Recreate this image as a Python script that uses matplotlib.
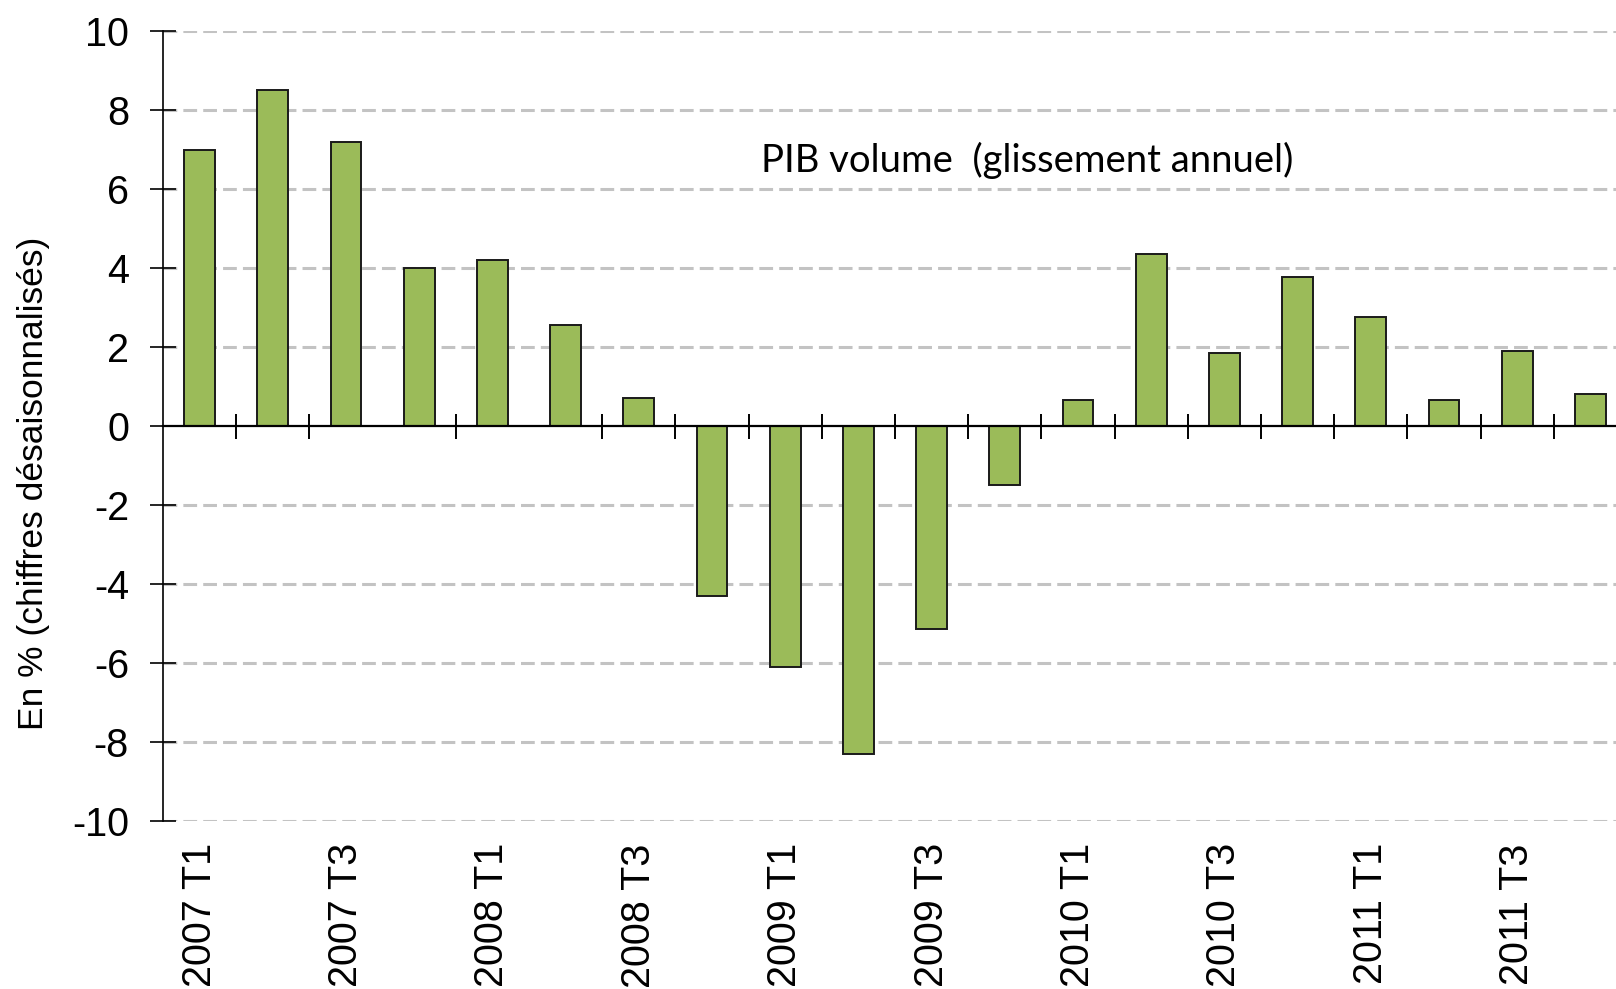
import matplotlib
matplotlib.use("Agg")
import matplotlib.pyplot as plt
import numpy as np

quarters = ["2007 T1", "2007 T2", "2007 T3", "2007 T4",
            "2008 T1", "2008 T2", "2008 T3", "2008 T4",
            "2009 T1", "2009 T2", "2009 T3", "2009 T4",
            "2010 T1", "2010 T2", "2010 T3", "2010 T4",
            "2011 T1", "2011 T2", "2011 T3", "2011 T4"]
pib_ga = [7.0, 8.5, 7.2, 4.0,
          4.2, 2.55, 0.7, -4.3,
          -6.1, -8.3, -5.15, -1.5,
          0.65, 4.35, 1.85, 3.78,
          2.75, 0.65, 1.9, 0.82]
yticks = [-10, -8, -6, -4, -2, 0, 2, 4, 6, 8, 10]
ylabel = "En % (chiffres désaisonnalisés)"
annot = "PIB volume  (glissement annuel)"

plt.rcParams['font.family'] = ['Liberation Sans', 'DejaVu Sans']

W, H = 1616, 989
fig = plt.figure(figsize=(W/100, H/100), dpi=100)
left = 163 / W
bottom = 1 - 821 / H
top = 1 - 31 / H
ax = fig.add_axes([left, bottom, 1 - left, top - bottom])

x = np.arange(len(quarters))
ax.bar(x, pib_ga, width=0.42, color="#9BBB59", edgecolor="#1a1a1a",
       linewidth=1.4, zorder=3)

ax.set_ylim(-10, 10)
ax.set_xlim(-0.5, 19.35)

# grid
for yv in yticks:
    if yv != 0:
        ax.axhline(yv, color="#c3c3c3", linewidth=2.2, linestyle=(0, (4.5, 2)), zorder=1)

# spines
for s in ["top", "right"]:
    ax.spines[s].set_visible(False)
ax.spines["left"].set_linewidth(1.2)
ax.spines["bottom"].set_position(("data", 0))
ax.spines["bottom"].set_linewidth(1.6)
ax.spines["bottom"].set_zorder(4)

ax.set_yticks(yticks)
ax.set_yticklabels([str(v) for v in yticks], fontsize=28.5)
ax.tick_params(axis="y", direction="inout", length=19, width=1.2, pad=15)

# boundary tick marks on the zero line
bounds = [i + 0.5 for i in range(len(quarters) - 1) if i not in (2, 4)]
ax.set_xticks(bounds)
ax.set_xticklabels([])
ax.tick_params(axis="x", direction="inout", length=18, width=1.4)

# labels at bottom through a secondary axis
sec = ax.secondary_xaxis(0)
sec.set_xticks(x[::2])
sec.set_xticklabels(quarters[::2], rotation=90, fontsize=28.5)
sec.tick_params(axis="x", length=0, pad=16)
sec.spines["bottom"].set_visible(False)

fig.text(34 / W, 1 - 483 / H, ylabel, rotation=90, ha="center", va="center", fontsize=25.5)

ax.text(11.3, 6.72, annot, ha="center", va="center", fontsize=27.5,
        family=["Lato", "DejaVu Sans"])

fig.savefig("out.png", dpi=100)
